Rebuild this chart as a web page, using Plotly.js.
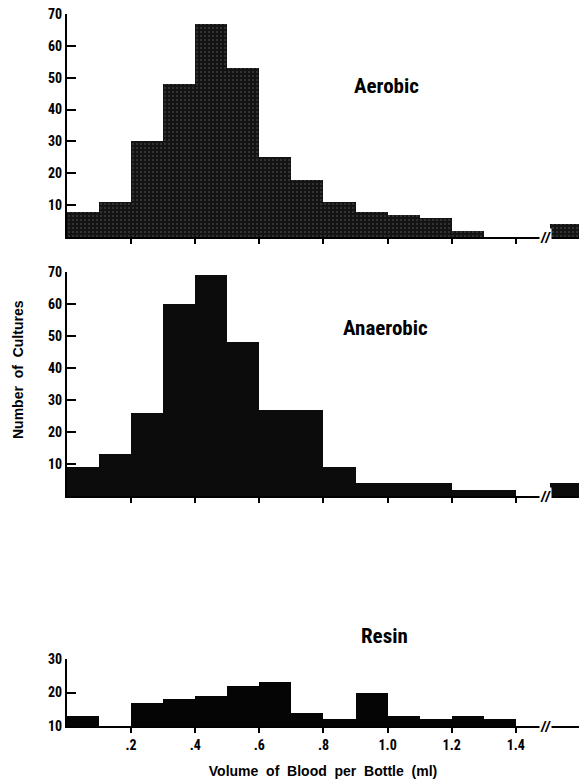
<!DOCTYPE html>
<html>
<head>
<meta charset="utf-8">
<script src="https://cdn.plot.ly/plotly-3.0.1.min.js"></script>
<style>html,body{margin:0;padding:0;background:#fff;}#chart{width:579px;height:780px;}</style>
</head>
<body>
<div id="chart"></div>
<script>
// Bin centres (ml); last entry is the ">1.5" bin drawn after the axis break
const binCenters = [0.05, 0.15, 0.25, 0.35, 0.45, 0.55, 0.65, 0.75, 0.85, 0.95, 1.05, 1.15, 1.25, 1.35, 1.45, 1.556];
const aerobic   = [8, 11, 30, 48, 67, 53, 25, 18, 11, 8, 7, 6, 2, 0, 0, 4];
const anaerobic = [9, 13, 26, 60, 69, 48, 27, 27, 9, 4, 4, 4, 2, 2, 0, 4];
const resin     = [13, 10, 17, 18, 19, 22, 23, 14, 12, 20, 13, 12, 13, 12, 10, 10];
const panelNames = ['Aerobic', 'Anaerobic', 'Resin'];
const xTickVals = [0.2, 0.4, 0.6, 0.8, 1.0, 1.2, 1.4];
const xTickText = ['.2', '.4', '.6', '.8', '1.0', '1.2', '1.4'];
const yTickVals = [10, 20, 30, 40, 50, 60, 70];
const yTickValsResin = [10, 20, 30];
const breakAt = 1.494;

const narrow = {family: '"Roboto Condensed", Roboto, "DejaVu Sans Condensed", sans-serif', weight: 'bold', color: '#000'};
const wide = {family: '"Liberation Sans", Arial, sans-serif', weight: 'bold', color: '#000'};

const traces = [
  {type: 'bar', x: binCenters, y: aerobic, width: 0.1, xaxis: 'x', yaxis: 'y',
   marker: {color: '#141414', line: {width: 0},
            pattern: {shape: '.', fillmode: 'replace', bgcolor: '#141414', fgcolor: '#3c3c3c', size: 4, solidity: 0.2}},
   cliponaxis: true},
  {type: 'bar', x: binCenters, y: anaerobic, width: 0.1, xaxis: 'x2', yaxis: 'y2',
   marker: {color: '#0c0c0c', line: {width: 0}}, cliponaxis: true},
  {type: 'bar', x: binCenters, y: resin, width: 0.1, xaxis: 'x3', yaxis: 'y3',
   marker: {color: '#050505', line: {width: 0}}, cliponaxis: true}
];

function xAxis(anchor, labels) {
  return {
    anchor: anchor, range: [0, 1.597], showline: true, linecolor: '#000', linewidth: 2,
    ticks: 'outside', ticklen: 5, tickwidth: 2, tickcolor: '#000',
    tickvals: xTickVals, ticktext: xTickText, showticklabels: labels,
    tickfont: Object.assign({size: 14}, narrow),
    showgrid: false, zeroline: false, fixedrange: true
  };
}
function yAxis(anchor, domain, range, vals) {
  return {
    anchor: anchor, domain: domain, range: range, showline: true, linecolor: '#000', linewidth: 2,
    ticks: 'inside', ticklen: 9, tickwidth: 2, tickcolor: '#000',
    tickvals: vals, ticktext: vals.map(String),
    tickfont: Object.assign({size: 14}, narrow),
    showgrid: false, zeroline: false, fixedrange: true
  };
}

const x3 = xAxis('y3', true);
x3.title = {text: 'Volume\u00a0 of\u00a0 Blood\u00a0 per\u00a0 Bottle\u00a0 (ml)', font: Object.assign({size: 14}, wide), standoff: 14};

const breakNote = (xr, yr, yv) => ({xref: xr, yref: yr, x: breakAt, y: yv, text: '<i>//</i>', showarrow: false,
  bgcolor: '#fff', borderpad: 0, font: Object.assign({size: 15}, wide), xanchor: 'center', yanchor: 'middle'});

const layout = {
  width: 579, height: 780,
  margin: {l: 67, r: 0, t: 14, b: 54},
  paper_bgcolor: '#fff', plot_bgcolor: '#fff',
  showlegend: false, bargap: 0,
  xaxis: xAxis('y', false),
  xaxis2: xAxis('y2', false),
  xaxis3: x3,
  yaxis: yAxis('x', [0.6868, 1.0], [0, 70], yTickVals),
  yaxis2: yAxis('x2', [0.3230, 0.6376], [0, 70], yTickVals),
  yaxis3: yAxis('x3', [0, 0.0941], [10, 30], yTickValsResin),
  annotations: [
    {xref: 'paper', yref: 'paper', x: 0.691, y: 0.9185, text: panelNames[0], showarrow: false, font: Object.assign({size: 21}, narrow)},
    {xref: 'paper', yref: 'paper', x: 0.709, y: 0.559, text: panelNames[1], showarrow: false, font: Object.assign({size: 21}, narrow)},
    {xref: 'paper', yref: 'paper', x: 0.669, y: 0.1067, text: panelNames[2], showarrow: false, font: Object.assign({size: 21}, narrow)},
    {xref: 'paper', yref: 'paper', x: -0.0957, y: 0.5, text: 'Number\u00a0 of\u00a0 Cultures', textangle: -90, showarrow: false,
     xanchor: 'center', yanchor: 'middle', font: Object.assign({size: 14}, wide)},
    breakNote('x', 'y', 0),
    breakNote('x2', 'y2', 0),
    breakNote('x3', 'y3', 10)
  ]
};

Plotly.newPlot('chart', traces, layout, {staticPlot: true, displayModeBar: false});
</script>
</body>
</html>
